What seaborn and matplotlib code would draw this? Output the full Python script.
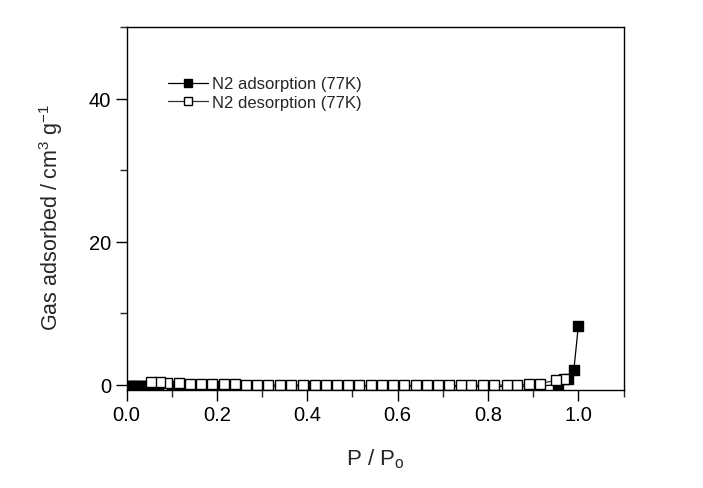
import matplotlib
matplotlib.use("Agg")
import matplotlib.pyplot as plt
import seaborn as sns
import numpy as np
import pandas as pd
from matplotlib.ticker import MultipleLocator

# Adsorption branch (filled squares)
ads_p = [0.003, 0.008, 0.013, 0.018, 0.024, 0.03, 0.036, 0.042, 0.05, 0.07, 0.10, 0.125,
         0.15, 0.20, 0.25, 0.30, 0.35, 0.40, 0.45, 0.50, 0.55, 0.607, 0.656, 0.707,
         0.756, 0.81, 0.856, 0.906, 0.955, 0.977, 0.99, 1.0]
ads_v = [-0.1, -0.1, -0.1, -0.1, -0.1, -0.1, -0.1, -0.1, -0.1, -0.1, -0.1, -0.15,
         -0.15, -0.15, -0.15, -0.15, -0.15, -0.15, -0.15, -0.15, -0.15, -0.15, -0.15, -0.2,
         -0.2, -0.2, -0.2, -0.2, 0.05, 0.8, 2.1, 8.3]

# Desorption branch (open squares)
des_p = [0.968, 0.95, 0.915, 0.891, 0.864, 0.841, 0.813, 0.789, 0.762, 0.74, 0.714,
         0.69, 0.664, 0.641, 0.614, 0.59, 0.565, 0.54, 0.514, 0.49, 0.465, 0.441,
         0.417, 0.39, 0.365, 0.34, 0.313, 0.288, 0.264, 0.24, 0.215, 0.19, 0.165,
         0.14, 0.116, 0.09, 0.075, 0.055]
des_v = [0.9, 0.65, 0.2, 0.1, 0.05, 0.0, 0.0, 0.0, -0.05, -0.05, -0.05,
         -0.05, -0.05, -0.05, -0.05, -0.05, -0.05, -0.05, -0.05, -0.05, -0.05, -0.05,
         -0.05, 0.0, 0.0, 0.0, 0.0, 0.05, 0.05, 0.1, 0.1, 0.15, 0.15,
         0.2, 0.25, 0.3, 0.35, 0.4]

labels = ["N2 adsorption (77K)", "N2 desorption (77K)"]

sns.set_style("ticks")
plt.rcParams['font.family'] = ['Liberation Sans', 'DejaVu Sans']
plt.rcParams['mathtext.fontset'] = 'custom'
plt.rcParams['mathtext.rm'] = 'Liberation Sans'
plt.rcParams['mathtext.it'] = 'Liberation Sans'

fig = plt.figure(figsize=(7.03, 4.89), dpi=100)
ax = fig.add_axes([0.180, 0.2004, 0.707, 0.7424])

ads = pd.DataFrame({"p": ads_p, "v": ads_v})
des = pd.DataFrame({"p": des_p, "v": des_v})

sns.lineplot(data=ads, x="p", y="v", ax=ax, sort=False, color="black", lw=0.9,
             marker="s", markersize=7.5, markerfacecolor="black", markeredgecolor="black",
             markeredgewidth=1.0, label=labels[0])
sns.lineplot(data=des, x="p", y="v", ax=ax, sort=False, color="#333333", lw=0.9,
             marker="s", markersize=7.5, markerfacecolor="white", markeredgecolor="black",
             markeredgewidth=1.0, label=labels[1])

ax.set_xlim(0, 1.1)
ax.set_ylim(-0.7, 50)
ax.xaxis.set_major_locator(MultipleLocator(0.2))
ax.xaxis.set_minor_locator(MultipleLocator(0.1))
ax.yaxis.set_major_locator(MultipleLocator(20))
ax.yaxis.set_minor_locator(MultipleLocator(10))
ax.set_xticks([0.0, 0.2, 0.4, 0.6, 0.8, 1.0])
ax.set_xticklabels(["0.0", "0.2", "0.4", "0.6", "0.8", "1.0"])
ax.set_yticks([0, 20, 40])

ax.tick_params(axis="both", which="major", direction="out", length=8, width=1.0,
               labelsize=14.5, colors="black", pad=3)
ax.tick_params(axis="both", which="minor", direction="out", length=5, width=1.0)
for s in ax.spines.values():
    s.set_visible(True)
    s.set_linewidth(1.0)
    s.set_color("black")

ax.set_xlabel(r"P / P$_\mathregular{o}$", fontsize=16, labelpad=16)
ax.set_ylabel(r"Gas adsorbed / cm$^\mathregular{3}$ g$^\mathregular{-1}$", fontsize=15.5, labelpad=17)
ax.yaxis.label.set_y(0.478)

leg = ax.legend(loc="upper left", bbox_to_anchor=(0.07, 0.882), frameon=False,
                fontsize=12, handlelength=2.4, handletextpad=0.25, labelspacing=0.22,
                borderaxespad=0)
for line in leg.get_lines():
    line.set_markersize(6)

fig.savefig("out.png", dpi=100)
